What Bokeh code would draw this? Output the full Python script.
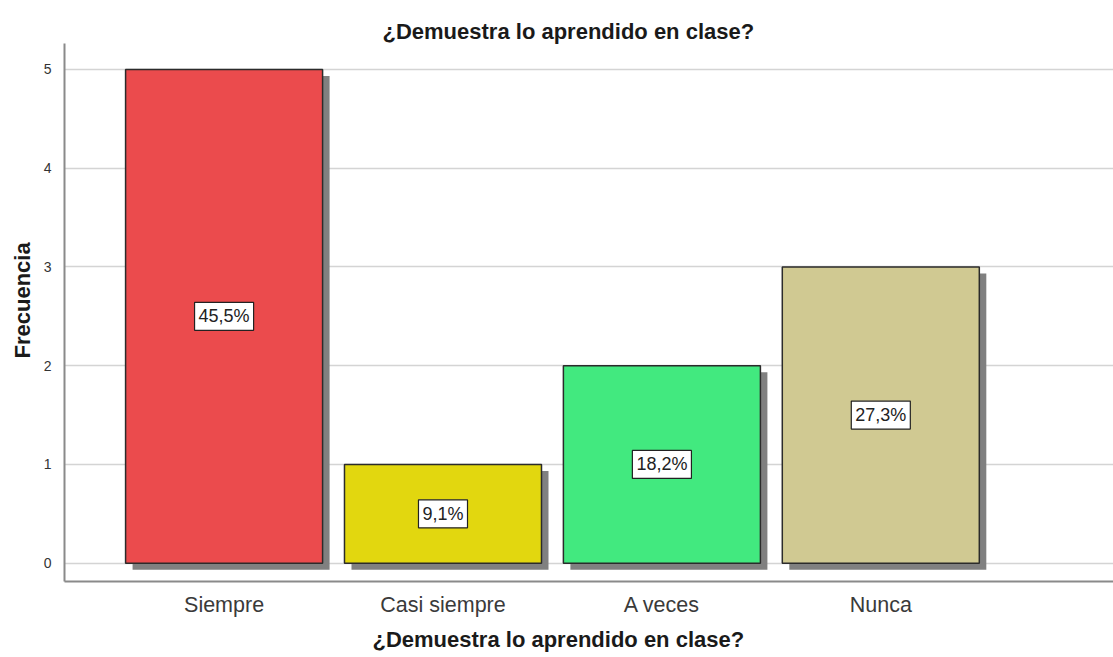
from bokeh.plotting import figure
from bokeh.models import ColumnDataSource, Range1d, FixedTicker, Title
from bokeh.core.properties import value
from bokeh.embed import file_html
from bokeh.resources import INLINE

# ---- data ----
categorias = ["Siempre", "Casi siempre", "A veces", "Nunca"]
frecuencias = [5, 1, 2, 3]
porcentajes = ["45,5%", "9,1%", "18,2%", "27,3%"]
colores = ["#EB4B4D", "#E2D70F", "#42E97F", "#D0C992"]
titulo = "¿Demuestra lo aprendido en clase?"
eje_x = "¿Demuestra lo aprendido en clase?"
eje_y = "Frecuencia"
ticks_y = [0, 1, 2, 3, 4, 5]

FONT = "Liberation Sans"
xs = list(range(len(categorias)))
BAR_W = 0.9
SH_DX = 0.032   # shadow offset (style)
SH_DY = 0.066

src = ColumnDataSource(dict(
    x=xs,
    top=frecuencias,
    color=colores,
    pct=porcentajes,
    ymid=[f / 2 for f in frecuencias],
    sx=[x + SH_DX for x in xs],
    stop=[f - SH_DY for f in frecuencias],
))

p = figure(width=1113, height=657, output_backend="svg", toolbar_location=None,
           x_range=Range1d(-0.729, 4.063), y_range=Range1d(-0.185, 5.262),
           min_border_left=64, min_border_right=0, min_border_top=43, min_border_bottom=76)
p.outline_line_color = None
p.background_fill_color = "white"

# title
p.title.text = titulo
p.title.align = "left"
p.title.offset = 318
p.title.standoff = 0
p.title.text_font = FONT
p.title.text_font_size = "22px"
p.title.text_font_style = "bold"
p.title.text_color = "#1a1a1a"

# shadows
p.vbar(x="sx", top="stop", bottom=-SH_DY, width=BAR_W, source=src,
       fill_color="#808080", line_color=None)
# bars
p.vbar(x="x", top="top", bottom=0, width=BAR_W, source=src,
       fill_color="color", line_color="#2b2b2b", line_width=1.5)
# labels
p.text(x="x", y="ymid", text="pct", source=src, text_align="center",
       text_baseline="middle", text_font=value(FONT), text_font_size="18px",
       text_color="#222222", background_fill_color="white",
       border_line_color="#222222", border_line_width=1.2, padding=4)

# axes
p.xaxis.ticker = FixedTicker(ticks=xs)
p.xaxis.major_label_overrides = {i: c for i, c in zip(xs, categorias)}
p.xaxis.major_tick_line_color = None
p.xaxis.minor_tick_line_color = None
p.xaxis.major_label_standoff = 5
p.xaxis.major_label_text_font = FONT
p.xaxis.major_label_text_font_size = "21.5px"
p.xaxis.major_label_text_color = "#3a3a3a"
p.xaxis.axis_line_color = "#8a8a8a"
p.xaxis.axis_line_width = 2

p.yaxis.ticker = FixedTicker(ticks=ticks_y)
p.yaxis.major_tick_line_color = None
p.yaxis.minor_tick_line_color = None
p.yaxis.major_label_standoff = 7
p.yaxis.major_label_text_font = FONT
p.yaxis.major_label_text_font_size = "14px"
p.yaxis.major_label_text_color = "#333333"
p.yaxis.axis_line_color = "#8a8a8a"
p.yaxis.axis_line_width = 2

p.xgrid.visible = False
p.ygrid.grid_line_color = "#d4d4d4"
p.ygrid.grid_line_width = 1.5

# y-axis title (left title so its vertical position can be matched)
yt = Title(text=eje_y, align="left", offset=223, standoff=12,
           text_font=FONT, text_font_size="22px", text_font_style="bold",
           text_color="#1a1a1a")
p.add_layout(yt, "left")

# x-axis title (placed as a below title to match its horizontal position)
xt = Title(text=eje_x, align="left", offset=308, standoff=11,
           text_font=FONT, text_font_size="22px", text_font_style="bold",
           text_color="#1a1a1a")
p.add_layout(xt, "below")

open("out.html", "w").write(file_html(p, INLINE))
